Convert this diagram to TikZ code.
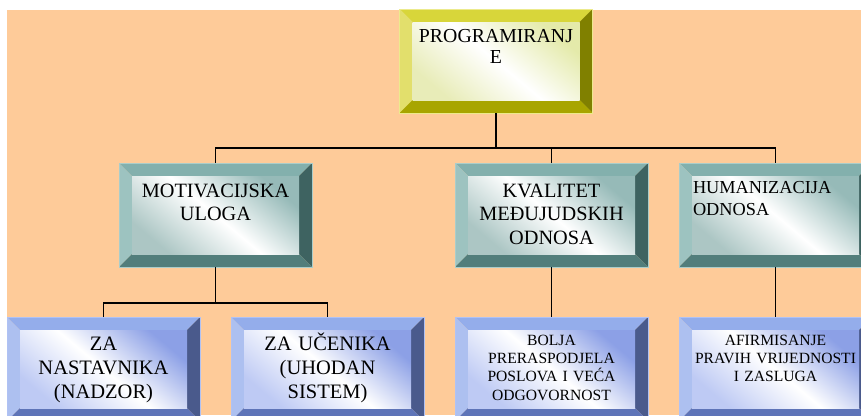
\documentclass[tikz,border=0pt]{standalone}
\usepackage{fontspec}
\setmainfont{Liberation Serif}
\usepackage{tikz}
\usetikzlibrary{arrows}

%% colours
\definecolor{peach}{RGB}{254,203,153}
\definecolor{yeltop}{RGB}{216,214,58}
\definecolor{yelleft}{RGB}{226,223,108}
\definecolor{yelright}{RGB}{128,128,0}
\definecolor{yelbot}{RGB}{168,165,0}
\definecolor{yeledge}{RGB}{236,234,140}
\definecolor{yeltint}{RGB}{228,234,170}
\definecolor{yeltintb}{RGB}{232,236,184}
\definecolor{teatop}{RGB}{131,176,173}
\definecolor{tealeft}{RGB}{157,195,192}
\definecolor{tearight}{RGB}{62,99,97}
\definecolor{teabot}{RGB}{82,126,123}
\definecolor{teaedge}{RGB}{170,205,202}
\definecolor{teatint}{RGB}{150,186,184}
\definecolor{teatintb}{RGB}{172,198,196}
\definecolor{blutop}{RGB}{148,173,235}
\definecolor{bluleft}{RGB}{173,192,240}
\definecolor{bluright}{RGB}{74,90,140}
\definecolor{blubot}{RGB}{94,116,184}
\definecolor{bluedge}{RGB}{176,194,244}
\definecolor{blutint}{RGB}{140,160,230}
\definecolor{blutintb}{RGB}{190,202,244}

\tikzset{
	box/.style={inner xsep=14pt, inner ysep=0pt, outer sep=0pt, text width=165pt, align=center, anchor=north},
	%% bevelled frame: edge, top, left, right, bottom, tint, tint 2
	bev/.style n args={7}{draw=#1, line width=0.8pt,
		path picture={
			\coordinate (pnw) at (path picture bounding box.north west);
			\coordinate (pse) at (path picture bounding box.south east);
			\coordinate (pne) at (pse |- pnw);
			\coordinate (psw) at (pnw |- pse);
			\coordinate (fnw) at ([shift={(13pt,-13pt)}]pnw);
			\coordinate (fse) at ([shift={(-13pt,13pt)}]pse);
			\coordinate (fne) at (fse |- fnw);
			\coordinate (fsw) at (fnw |- fse);
			\fill[#2] (pnw) -- (pne) -- (fne) -- (fnw) -- cycle;
			\fill[#3] (pnw) -- (fnw) -- (fsw) -- (psw) -- cycle;
			\fill[#4] (pne) -- (pse) -- (fse) -- (fne) -- cycle;
			\fill[#5] (psw) -- (fsw) -- (fse) -- (pse) -- cycle;
			\shade[top color=#6, bottom color=#7, middle color=white, shading angle=-40] (fnw) rectangle (fse);
		}},
	yelbox/.style={box, bev={yeledge}{yeltop}{yelleft}{yelright}{yelbot}{yeltint}{yeltintb}},
	teabox/.style={box, bev={teaedge}{teatop}{tealeft}{tearight}{teabot}{teatint}{teatintb}},
	blubox/.style={box, bev={bluedge}{blutop}{bluleft}{bluright}{blubot}{blutint}{blutintb}},
	link/.style={line width=1.8pt, black}
}

\begin{document}
\begin{tikzpicture}[x=1pt, y=-1pt]
	%%Frame
	\useasboundingbox (0,0) rectangle (861,415);
	\clip (0,0) rectangle (861,415);
	\fill[peach] (7,10) rectangle (861,415);
	%%Top
	\node[yelbox, text height=33pt, text depth=71pt, font=\fontsize{19.8}{21}\selectfont] (prog) at (496,9) {PROGRAMIRANJ\\E};
	%%Second row
	\node[teabox, text height=34pt, text depth=70pt, font=\fontsize{20.3}{23.5}\selectfont] (motiv) at (215.5,163) {MOTIVACIJSKA\\ULOGA};
	\node[teabox, text height=34pt, text depth=70pt, font=\fontsize{20.3}{23.5}\selectfont] (kval) at (551.5,163) {KVALITET\\MEĐUJUDSKIH\\ODNOSA};
	\node[teabox, align=left, text height=30pt, text depth=74pt, font=\fontsize{18.3}{22}\selectfont] (human) at (775.5,163) {HUMANIZACIJA\\ODNOSA};
	%%Third row
	\node[blubox, text height=33pt, text depth=71pt, font=\fontsize{20.5}{24}\selectfont] (nast) at (103.5,317) {ZA\\NASTAVNIKA\\(NADZOR)};
	\node[blubox, text height=33pt, text depth=71pt, font=\fontsize{20.5}{24}\selectfont] (ucen) at (327.5,317) {ZA UČENIKA\\(UHODAN\\SISTEM)};
	\node[blubox, text height=28pt, text depth=76pt, font=\fontsize{15.6}{18.4}\selectfont] (bolja) at (551.5,317) {BOLJA\\PRERASPODJELA\\POSLOVA I VEĆA\\ODGOVORNOST};
	\node[blubox, text height=28pt, text depth=76pt, font=\fontsize{15.6}{18.4}\selectfont] (afirm) at (775.5,317) {AFIRMISANJE\\PRAVIH VRIJEDNOSTI\\I ZASLUGA};
	%%Links
	\coordinate (top) at (496,148);
	\coordinate (mid) at (215.5,303);
	\draw[link] (prog.south) -- (top);
	\draw[link] (motiv.north) |- (top) -| (human.north);
	\draw[link] (kval.north) -- (kval.north |- top);
	\draw[link] (motiv.south) -- (mid);
	\draw[link] (nast.north) |- (mid) -| (ucen.north);
	\draw[link] (kval.south) -- (bolja.north);
	\draw[link] (human.south) -- (afirm.north);
\end{tikzpicture}
\end{document}
